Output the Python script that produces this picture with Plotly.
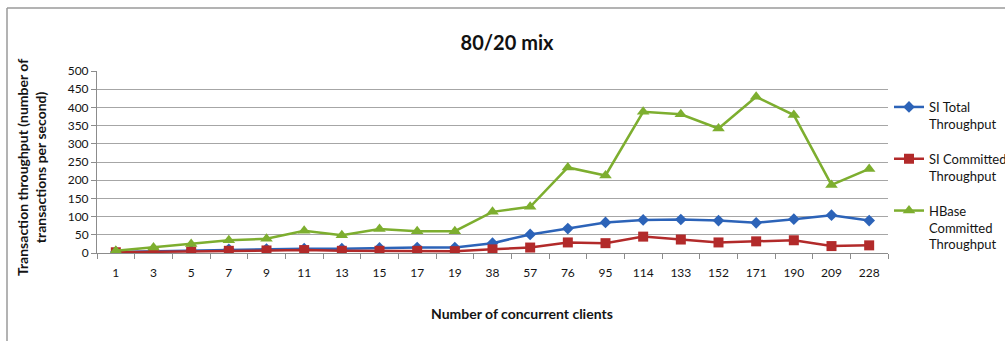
import plotly.graph_objects as go

# Number of concurrent clients (categorical x axis)
clients = ["1", "3", "5", "7", "9", "11", "13", "15", "17", "19", "38", "57",
           "76", "95", "114", "133", "152", "171", "190", "209", "228"]

# Throughput series (transactions per second)
si_total = [3, 5, 7, 10, 11, 12, 12, 14, 15, 15, 27, 51,
            67, 84, 91, 92, 89, 83, 93, 104, 89]
si_committed = [2, 3, 4, 6, 7, 8, 6, 6, 6, 5, 10, 15,
                29, 27, 45, 37, 29, 32, 35, 19, 21]
hbase_committed = [6, 15, 25, 35, 39, 61, 49, 66, 60, 60, 113, 127,
                   235, 213, 388, 381, 342, 429, 379, 187, 231]

y_ticks = [0, 50, 100, 150, 200, 250, 300, 350, 400, 450, 500]

W, H = 1005, 341
L, R, T, B = 97, 117, 71, 88
pw, ph = W - L - R, H - T - B

FONT = "Lato, 'Open Sans', sans-serif"
TEXT = "#141414"
AXIS = "#8C8C8C"

fig = go.Figure()

series = [
    ("SI Total<br>Throughput", si_total, "#2C63B8", "diamond", 9),
    ("SI Committed<br>Throughput", si_committed, "#B22A2A", "square", 10),
    ("HBase<br>Committed<br>Throughput", hbase_committed, "#7DAE2F", "triangle-up", 11),
]
for i, (name, vals, color, sym, size) in enumerate(series):
    fig.add_trace(go.Scatter(
        x=clients, y=vals, name=name, mode="lines+markers",
        line=dict(color=color, width=2.5),
        marker=dict(symbol=sym, size=size, color=color),
        legendgroup=f"g{i}",
    ))


def px_x(p):
    return (p - L) / pw


def px_y(p):
    return (H - B - p) / ph


# outer chart frame (top and left edges visible)
fig.add_shape(type="line", xref="paper", yref="paper",
              x0=px_x(7), x1=px_x(1010), y0=px_y(8), y1=px_y(8),
              line=dict(color="#9A9A9A", width=1.5))
fig.add_shape(type="line", xref="paper", yref="paper",
              x0=px_x(7), x1=px_x(7), y0=px_y(8), y1=px_y(345),
              line=dict(color="#9A9A9A", width=1.5))

# axis titles
fig.add_annotation(
    text="<b>Transaction throughput (number of<br>transactions per second)</b>",
    xref="paper", yref="paper", x=px_x(31), y=px_y(168),
    xanchor="center", yanchor="middle", textangle=-90, showarrow=False,
    font=dict(family=FONT, size=14, color=TEXT),
)
fig.add_annotation(
    text="<b>Number of concurrent clients</b>",
    xref="paper", yref="paper", x=px_x(522), y=px_y(313),
    xanchor="center", yanchor="middle", showarrow=False,
    font=dict(family=FONT, size=14, color=TEXT),
)

fig.update_layout(
    width=W, height=H,
    margin=dict(l=L, r=R, t=T, b=B, autoexpand=False),
    paper_bgcolor="white", plot_bgcolor="white",
    font=dict(family=FONT, size=12, color=TEXT),
    title=dict(text="<b>80/20 mix</b>", x=507 / W, xanchor="center",
               y=1 - 43 / H, yanchor="middle",
               font=dict(family=FONT, size=20, color="#111")),
    xaxis=dict(
        type="category", showgrid=False, showline=True, linecolor=AXIS,
        linewidth=1, ticks="outside", tickson="boundaries", ticklen=5,
        tickcolor=AXIS, tickfont=dict(size=12, color=TEXT),
        ticklabelstandoff=9,
        range=[-0.5, len(clients) - 0.5],
    ),
    yaxis=dict(
        range=[0, 500], tickvals=y_ticks, showgrid=True, gridcolor="#A6A6A6",
        gridwidth=1, showline=True, linecolor=AXIS, linewidth=1,
        ticks="outside", ticklen=5, tickcolor=AXIS, zeroline=False,
        tickfont=dict(size=12, color=TEXT),
    ),
    legend=dict(
        xref="container", yref="container",
        x=889 / W, xanchor="left", y=1 - 92 / H, yanchor="top",
        font=dict(family=FONT, size=13, color=TEXT), valign="top",
        tracegroupgap=15, itemwidth=30, bgcolor="rgba(0,0,0,0)",
    ),
    showlegend=True,
)

fig.write_html("out.html")
